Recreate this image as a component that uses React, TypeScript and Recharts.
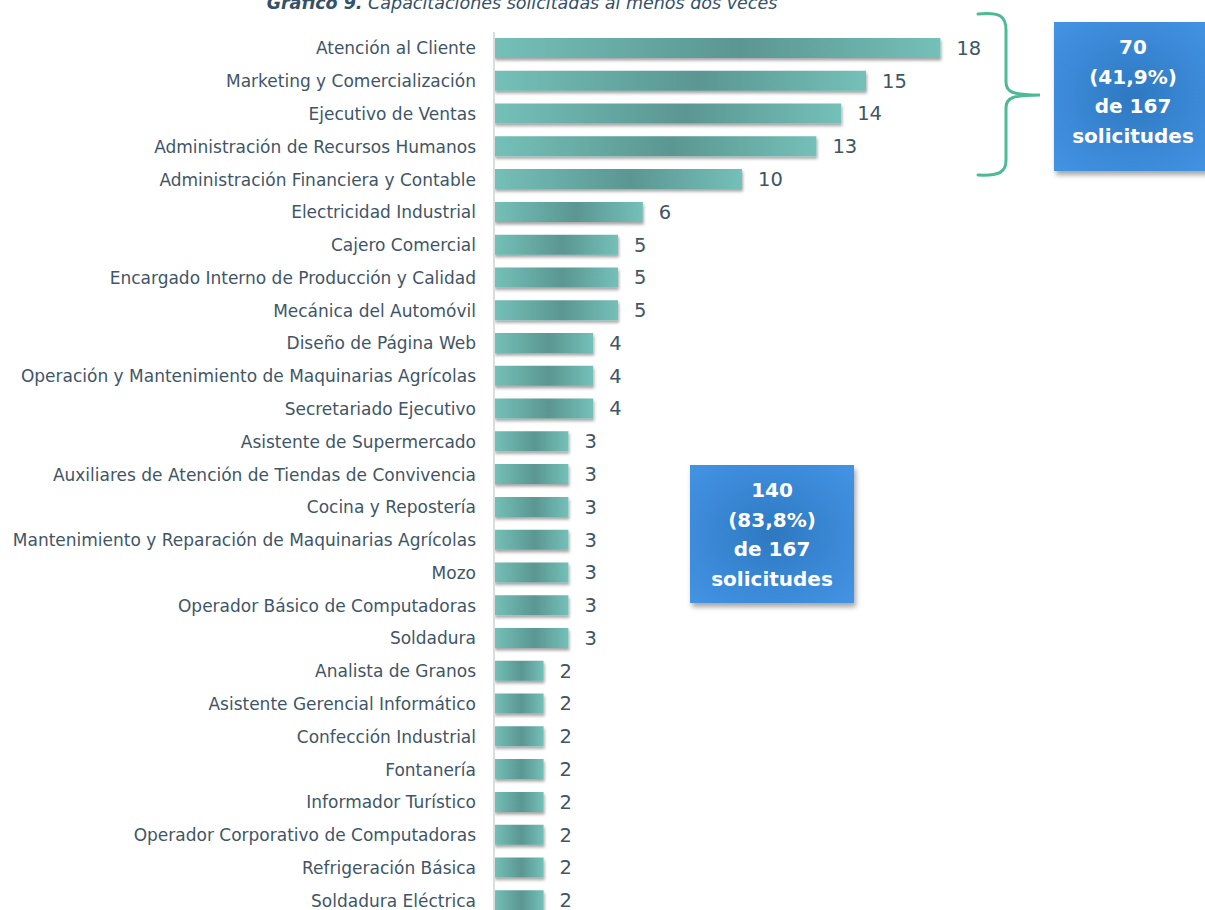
import React from 'react';
import { BarChart, Bar, XAxis, YAxis, LabelList } from 'recharts';

const categories = [
  'Atención al Cliente',
  'Marketing y Comercialización',
  'Ejecutivo de Ventas',
  'Administración de Recursos Humanos',
  'Administración Financiera y Contable',
  'Electricidad Industrial',
  'Cajero Comercial',
  'Encargado Interno de Producción y Calidad',
  'Mecánica del Automóvil',
  'Diseño de Página Web',
  'Operación y Mantenimiento de Maquinarias Agrícolas',
  'Secretariado Ejecutivo',
  'Asistente de Supermercado',
  'Auxiliares de Atención de Tiendas de Convivencia',
  'Cocina y Repostería',
  'Mantenimiento y Reparación de Maquinarias Agrícolas',
  'Mozo',
  'Operador Básico de Computadoras',
  'Soldadura',
  'Analista de Granos',
  'Asistente Gerencial Informático',
  'Confección Industrial',
  'Fontanería',
  'Informador Turístico',
  'Operador Corporativo de Computadoras',
  'Refrigeración Básica',
  'Soldadura Eléctrica',
];

const values = [18, 15, 14, 13, 10, 6, 5, 5, 5, 4, 4, 4, 3, 3, 3, 3, 3, 3, 3, 2, 2, 2, 2, 2, 2, 2, 2];

const topBox = ['70', '(41,9%)', 'de 167', 'solicitudes'];
const midBox = ['140', '(83,8%)', 'de 167', 'solicitudes'];

const FONT = '"DejaVu Sans", sans-serif';
const TEXT = '#3f5567';

const data = categories.map((name, i) => ({ name, value: values[i] }));

function InfoBox({ lines, style }: { lines: string[]; style: React.CSSProperties }) {
  return (
    <div
      style={{
        position: 'absolute',
        boxSizing: 'border-box',
        background: 'radial-gradient(ellipse at center, #2e78c0 0%, #3a88d6 55%, #4494e4 100%)',
        boxShadow: '2px 4px 5px rgba(0,0,0,0.35)',
        color: '#fff',
        fontFamily: FONT,
        fontWeight: 700,
        fontSize: 20,
        lineHeight: '29.5px',
        textAlign: 'center',
        display: 'flex',
        flexDirection: 'column',
        justifyContent: 'center',
        ...style,
      }}
    >
      {lines.map((l) => (
        <div key={l}>{l}</div>
      ))}
    </div>
  );
}

export default function App() {
  return (
    <div style={{ position: 'absolute', left: 0, top: 0, width: 1205, height: 910, overflow: 'hidden', background: '#fff' }}>
      <div
        style={{
          position: 'absolute',
          top: -7,
          left: 0,
          width: 1044,
          textAlign: 'center',
          fontFamily: FONT,
          fontStyle: 'italic',
          fontSize: 17.5,
          color: '#34506a',
        }}
      >
        <b>Gráfico 9.</b> Capacitaciones solicitadas al menos dos veces
      </div>

      <BarChart
        width={1205}
        height={930}
        data={data}
        layout="vertical"
        margin={{ top: 32, right: 215, bottom: 13, left: 0 }}
      >
        <defs>
          <linearGradient id="barGrad" x1="0" y1="0" x2="1" y2="0">
            <stop offset="0%" stopColor="#74c0b8" />
            <stop offset="55%" stopColor="#5b9692" />
            <stop offset="100%" stopColor="#74c0b8" />
          </linearGradient>
          <filter id="barShadow" x="-5%" y="-20%" width="110%" height="160%">
            <feDropShadow dx="1" dy="2.5" stdDeviation="1.5" floodColor="#000" floodOpacity="0.35" />
          </filter>
        </defs>
        <XAxis type="number" domain={[0, 20]} hide />
        <YAxis
          type="category"
          dataKey="name"
          width={494}
          interval={0}
          tickLine={false}
          tickMargin={12}
          axisLine={{ stroke: '#d9dde0', strokeWidth: 2 }}
          tick={{ fill: TEXT, fontSize: 17, fontFamily: FONT }}
        />
        <Bar
          dataKey="value"
          barSize={20}
          fill="url(#barGrad)"
          filter="url(#barShadow)"
          isAnimationActive={false}
        >
          <LabelList
            dataKey="value"
            position="right"
            offset={16}
            style={{ fill: TEXT, fontSize: 19.5, fontFamily: FONT }}
          />
        </Bar>
      </BarChart>

      <svg style={{ position: 'absolute', left: 0, top: 0 }} width={1205} height={910}>
        <path
          d="M978 14 C1000 12 1006 16 1006 30 L1006 82 C1006 92 1012 95 1040 95 C1012 95 1006 98 1006 108 L1006 160 C1006 172 1000 176 978 175"
          fill="none"
          stroke="#4cba95"
          strokeWidth={3}
          strokeLinecap="round"
        />
      </svg>

      <InfoBox lines={topBox} style={{ left: 1054, top: 22, width: 158, height: 149, paddingBottom: 9 }} />
      <InfoBox lines={midBox} style={{ left: 690, top: 465, width: 164, height: 138, paddingTop: 2 }} />
    </div>
  );
}
